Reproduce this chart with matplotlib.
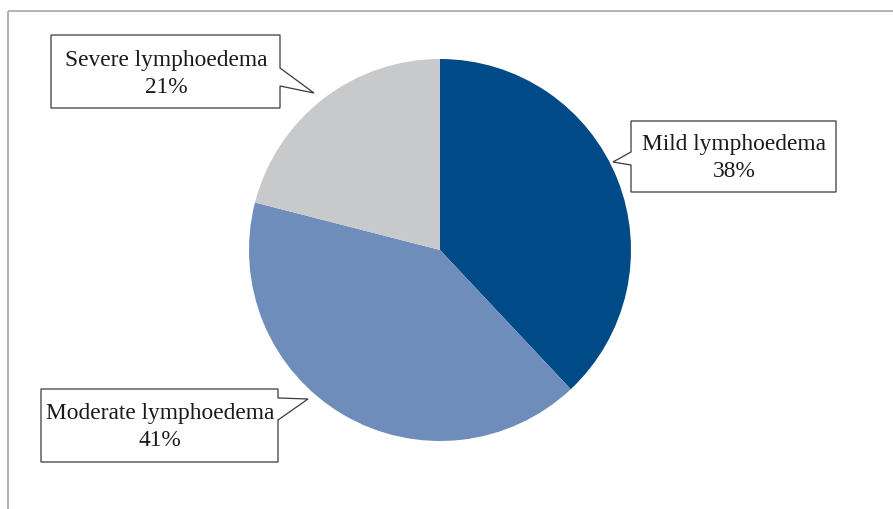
import matplotlib.pyplot as plt
from matplotlib.patches import Polygon

# Severity distribution
categories = ['Mild lymphoedema', 'Moderate lymphoedema', 'Severe lymphoedema']
shares = [38, 41, 21]
colors = ['#004A88', '#6F8DBA', '#C8C9CB']

W, H = 893, 509
fig = plt.figure(figsize=(W / 100, H / 100), dpi=100)

# overlay axes in pixel units (y down) for frame and callouts
ov = fig.add_axes([0, 0, 1, 1])
ov.set_xlim(0, W)
ov.set_ylim(H, 0)
ov.axis('off')

# pie axes: centre (440, 250), radius 191 px
cx, cy, r = 440, 250, 191
pie_ax = fig.add_axes([(cx - r) / W, (H - cy - r) / H, 2 * r / W, 2 * r / H])
pie_ax.pie(shares, colors=colors, startangle=90, counterclock=False,
           radius=1, wedgeprops=dict(linewidth=0))
pie_ax.set_xlim(-1, 1)
pie_ax.set_ylim(-1, 1)
pie_ax.set_aspect('equal')
pie_ax.axis('off')

# chart area border (top and left edges visible)
ov.plot([8, W], [11, 11], color='#A6A6A6', lw=1.2, solid_capstyle='butt')
ov.plot([8, 8], [11, H], color='#A6A6A6', lw=1.2, solid_capstyle='butt')

# callout outlines: box plus pointer, in pixel coordinates
callouts = {
    'Mild lymphoedema': [(631, 121), (836, 121), (836, 192), (631, 192),
                         (631, 165), (613, 162), (631, 152)],
    'Moderate lymphoedema': [(41, 389), (278, 389), (278, 398), (308, 399),
                             (278, 420), (278, 462), (41, 462)],
    'Severe lymphoedema': [(51, 35), (280, 35), (280, 68), (314, 93),
                           (280, 86), (280, 108), (51, 108)],
}
text_centres = {
    'Mild lymphoedema': (734, 158),
    'Moderate lymphoedema': (160, 427),
    'Severe lymphoedema': (166, 74),
}

for name, share in zip(categories, shares):
    ov.add_patch(Polygon(callouts[name], closed=True, facecolor='white',
                         edgecolor='#3A3A3A', lw=0.9, joinstyle='miter'))
    tx, ty = text_centres[name]
    ov.text(tx, ty, f'{name}\n{share}%', ha='center', va='center',
            fontsize=16.8, family='Liberation Serif', color='#1A1A1A',
            linespacing=1.42)

fig.savefig('out.png', dpi=100, facecolor='white')
